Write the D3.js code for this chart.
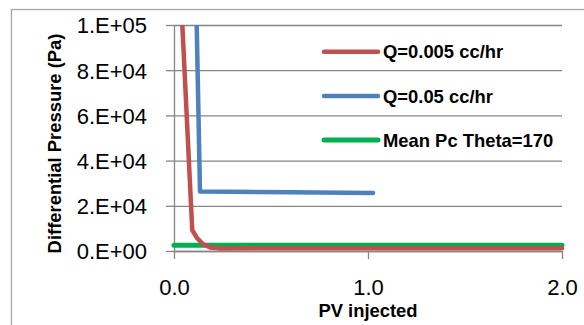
<!DOCTYPE html>
<meta charset="utf-8">
<style>
body { margin: 0; background: white; }
text { font-family: "Liberation Sans", Arial, sans-serif; fill: black; }
.grid line { stroke: #868686; stroke-width: 1.3px; }
.grid path { display: none; }
.axis path, .axis line { stroke: #868686; stroke-width: 1.3px; }
</style>
<body>
<script src="https://d3js.org/d3.v7.min.js"></script>
<script>
var width = 584,
    height = 325;

// data
var seriesNames = ["Q=0.005 cc/hr", "Q=0.05 cc/hr", "Mean Pc Theta=170"];
var seriesColors = ["#C0504D", "#4F81BD", "#00B050"];
var redPV = [0.043, 0.094, 0.119, 0.149, 0.186, 0.24, 0.5, 1.0, 1.5, 2.0];
var redDP = [100000, 9300, 5700, 3100, 1550, 1150, 1200, 1200, 1250, 1250];
var bluePV = [0.117, 0.134, 0.3, 0.6, 1.026];
var blueDP = [100000, 26300, 26200, 26000, 25700];
var greenPV = [0, 2.0];
var greenDP = [2500, 2500];
var yTicks = [0, 20000, 40000, 60000, 80000, 100000];
var yTickLabels = ["0.E+00", "2.E+04", "4.E+04", "6.E+04", "8.E+04", "1.E+05"];
var xTicks = [0, 1, 2];
var xTickLabels = ["0.0", "1.0", "2.0"];

var plot = {left: 174, right: 562, top: 25, bottom: 251};

var x = d3.scaleLinear().domain([0, 2]).range([plot.left, plot.right]);
var y = d3.scaleLinear().domain([0, 100000]).range([plot.bottom, plot.top]);

var svg = d3.select("body").append("svg")
    .attr("width", width)
    .attr("height", height);

// chart area border
svg.append("rect")
    .attr("x", 11.5).attr("y", 9.5)
    .attr("width", 620).attr("height", 340)
    .attr("fill", "white")
    .attr("stroke", "#a6a6a6")
    .attr("stroke-width", 1.3);

svg.append("defs").append("clipPath").attr("id", "plotclip")
  .append("rect")
    .attr("x", plot.left - 10).attr("y", plot.top)
    .attr("width", plot.right - plot.left + 20)
    .attr("height", plot.bottom - plot.top + 10);

// horizontal gridlines
svg.append("g")
    .attr("class", "grid")
    .attr("transform", "translate(" + plot.left + ",0)")
    .call(d3.axisLeft(y).tickValues(yTicks).tickSize(-(plot.right - plot.left)).tickFormat(""));

// y axis
var yAxis = svg.append("g")
    .attr("class", "axis")
    .attr("transform", "translate(" + plot.left + ",0)")
    .call(d3.axisLeft(y).tickValues(yTicks).tickSize(8).tickSizeOuter(0).tickPadding(19)
      .tickFormat(function(d, i) { return yTickLabels[i]; }));
yAxis.selectAll("text")
    .attr("font-size", "22px")
    .attr("font-family", "Liberation Sans, Arial, sans-serif")
    .attr("dy", "0.36em");

// x axis
var xAxis = svg.append("g")
    .attr("class", "axis")
    .attr("transform", "translate(0," + plot.bottom + ")")
    .call(d3.axisBottom(x).tickValues(xTicks).tickSize(8).tickSizeOuter(0).tickPadding(20)
      .tickFormat(function(d, i) { return xTickLabels[i]; }));
xAxis.selectAll("text")
    .attr("font-size", "22px")
    .attr("font-family", "Liberation Sans, Arial, sans-serif")
    .attr("dy", "0.71em");

// axis titles
svg.append("text")
    .attr("x", (plot.left + plot.right) / 2)
    .attr("y", 317)
    .attr("text-anchor", "middle")
    .attr("font-size", "18.4px")
    .attr("font-weight", "bold")
    .text("PV injected");

svg.append("text")
    .attr("transform", "translate(61,143.5) rotate(-90)")
    .attr("text-anchor", "middle")
    .attr("font-size", "18.4px")
    .attr("font-weight", "bold")
    .text("Differential Pressure (Pa)");

// series
var series = [
  {pv: greenPV, dp: greenDP, w: 5},
  {pv: redPV, dp: redDP, w: 4.5},
  {pv: bluePV, dp: blueDP, w: 4.5}
];
var colorIdx = [2, 0, 1];

var line = d3.line()
    .x(function(d) { return x(d[0]); })
    .y(function(d) { return y(d[1]); });

var g = svg.append("g").attr("clip-path", "url(#plotclip)");
series.forEach(function(s, k) {
  g.append("path")
    .datum(d3.zip(s.pv, s.dp))
    .attr("fill", "none")
    .attr("stroke", seriesColors[colorIdx[k]])
    .attr("stroke-width", s.w)
    .attr("stroke-linejoin", "round")
    .attr("stroke-linecap", "round")
    .attr("d", line);
});

// legend
var legend = svg.append("g").attr("class", "legend");
var item = legend.selectAll("g")
    .data(seriesNames)
    .enter().append("g")
    .attr("transform", function(d, i) { return "translate(0," + (51.7 + i * 44.2) + ")"; });
item.append("line")
    .attr("x1", 324).attr("x2", 378)
    .attr("stroke", function(d, i) { return seriesColors[i]; })
    .attr("stroke-width", function(d, i) { return i == 2 ? 5 : 4.5; })
    .attr("stroke-linecap", "round");
item.append("text")
    .attr("x", 383)
    .attr("dy", "0.36em")
    .attr("font-size", "18.4px")
    .attr("font-weight", "bold")
    .text(function(d) { return d; });
</script>
</body>
</html>
